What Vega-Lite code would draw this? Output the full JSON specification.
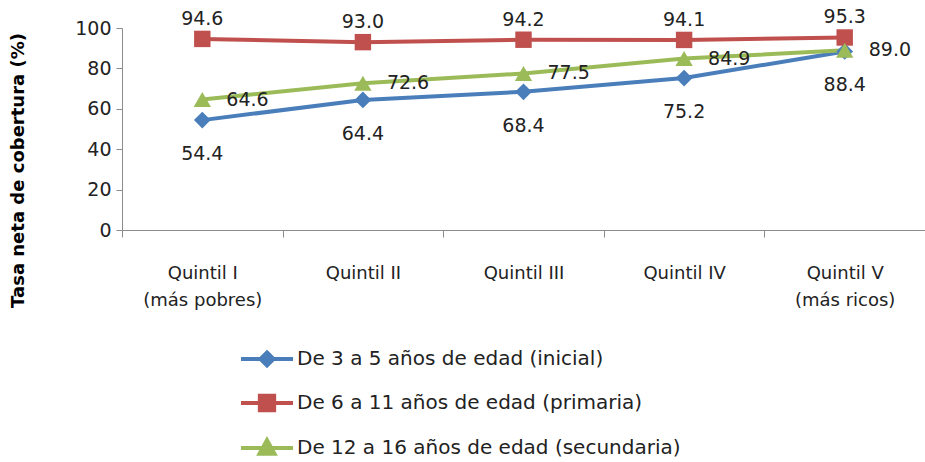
{
  "$schema": "https://vega.github.io/schema/vega-lite/v6.json",
  "autosize": "none",
  "width": 803,
  "height": 202,
  "padding": {"left": 122, "top": 28, "right": 0, "bottom": 232},
  "background": "white",
  "config": {
    "font": "DejaVu Sans",
    "view": {"stroke": null},
    "axis": {"domainColor": "#8c8c8c", "tickColor": "#8c8c8c", "labelColor": "#222", "labelFont": "DejaVu Sans", "titleFont": "DejaVu Sans"}
  },
  "data": {"values": [
    {"q": "Quintil I|(más pobres)", "s": "De 3 a 5 años de edad (inicial)", "v": 54.4},
    {"q": "Quintil II", "s": "De 3 a 5 años de edad (inicial)", "v": 64.4},
    {"q": "Quintil III", "s": "De 3 a 5 años de edad (inicial)", "v": 68.4},
    {"q": "Quintil IV", "s": "De 3 a 5 años de edad (inicial)", "v": 75.2},
    {"q": "Quintil V|(más ricos)", "s": "De 3 a 5 años de edad (inicial)", "v": 88.4},
    {"q": "Quintil I|(más pobres)", "s": "De 6 a 11 años de edad (primaria)", "v": 94.6},
    {"q": "Quintil II", "s": "De 6 a 11 años de edad (primaria)", "v": 93.0},
    {"q": "Quintil III", "s": "De 6 a 11 años de edad (primaria)", "v": 94.2},
    {"q": "Quintil IV", "s": "De 6 a 11 años de edad (primaria)", "v": 94.1},
    {"q": "Quintil V|(más ricos)", "s": "De 6 a 11 años de edad (primaria)", "v": 95.3},
    {"q": "Quintil I|(más pobres)", "s": "De 12 a 16 años de edad (secundaria)", "v": 64.6},
    {"q": "Quintil II", "s": "De 12 a 16 años de edad (secundaria)", "v": 72.6},
    {"q": "Quintil III", "s": "De 12 a 16 años de edad (secundaria)", "v": 77.5},
    {"q": "Quintil IV", "s": "De 12 a 16 años de edad (secundaria)", "v": 84.9},
    {"q": "Quintil V|(más ricos)", "s": "De 12 a 16 años de edad (secundaria)", "v": 89.0}
  ]},
  "encoding": {
    "x": {"field": "q", "type": "nominal", "sort": null,
      "scale": {"paddingInner": 0, "paddingOuter": 0},
      "axis": {"title": null, "labelAngle": 0, "labelExpr": "datum.value ? split(datum.value, '|') : ''", "labelFontSize": 18, "labelLineHeight": 27, "tickBand": "extent", "tickSize": 7, "labelPadding": 27, "domainWidth": 1}},
    "y": {"field": "v", "type": "quantitative",
      "scale": {"domain": [0, 100]},
      "axis": {"values": [0, 20, 40, 60, 80, 100], "grid": false, "tickSize": 6, "labelFontSize": 19, "labelPadding": 5,
        "title": "Tasa neta de cobertura (%)", "titleFontSize": 18, "titleFontWeight": "bold", "titleColor": "#000",
        "titleX": -104, "titleY": 142, "titleAngle": -90, "titleBaseline": "middle", "titleAlign": "center"}}
  },
  "layer": [
    {
      "mark": {"type": "line", "strokeWidth": 4},
      "encoding": {
        "color": {"field": "s", "type": "nominal", "sort": null,
          "scale": {"domain": ["De 3 a 5 años de edad (inicial)", "De 6 a 11 años de edad (primaria)", "De 12 a 16 años de edad (secundaria)"], "range": ["#4a7ebb", "#c0504d", "#9bbb59"]},
          "legend": {"title": null, "orient": "none", "legendX": 135, "legendY": 321, "direction": "vertical",
            "labelFontSize": 20, "labelColor": "#222", "labelFont": "DejaVu Sans", "labelLimit": 500,
            "symbolSize": 169, "symbolStrokeWidth": 4, "labelOffset": 20, "rowPadding": 13,
            "encode": {"symbols": {"update": {
              "shape": {"signal": "datum.value === 'De 3 a 5 años de edad (inicial)' ? 'M-4,0L4,0M0,-1L1,0L0,1L-1,0Z' : datum.value === 'De 6 a 11 años de edad (primaria)' ? 'M-4,0L4,0M-1.1,-1.1L1.1,-1.1L1.1,1.1L-1.1,1.1Z' : 'M-4,0L4,0M0,-1.2L1.15,0.9L-1.15,0.9Z'"},
              "fill": {"signal": "scale('color', datum.value)"},
              "stroke": {"signal": "scale('color', datum.value)"},
              "strokeWidth": {"value": 4},
              "strokeOpacity": {"value": 1},
              "fillOpacity": {"value": 1},
              "opacity": {"value": 1}
            }}}}
        },
        "detail": {"field": "s"}
      }
    },
    {
      "transform": [{"filter": "datum.s === 'De 3 a 5 años de edad (inicial)'"}],
      "mark": {"type": "point", "filled": true, "opacity": 1, "size": 280, "shape": "diamond", "color": "#4a7ebb"}
    },
    {
      "transform": [{"filter": "datum.s === 'De 6 a 11 años de edad (primaria)'"}],
      "mark": {"type": "point", "filled": true, "opacity": 1, "size": 270, "shape": "square", "color": "#c0504d"}
    },
    {
      "transform": [{"filter": "datum.s === 'De 12 a 16 años de edad (secundaria)'"}],
      "mark": {"type": "point", "filled": true, "opacity": 1, "size": 300, "shape": "triangle-up", "color": "#9bbb59"}
    },
    {
      "transform": [{"filter": "datum.s === 'De 3 a 5 años de edad (inicial)'"}],
      "mark": {"type": "text", "dy": 34, "fontSize": 19, "color": "#222"},
      "encoding": {"text": {"field": "v", "type": "quantitative", "format": ".1f"}}
    },
    {
      "transform": [{"filter": "datum.s === 'De 6 a 11 años de edad (primaria)'"}],
      "mark": {"type": "text", "dy": -20, "fontSize": 19, "color": "#222"},
      "encoding": {"text": {"field": "v", "type": "quantitative", "format": ".1f"}}
    },
    {
      "transform": [{"filter": "datum.s === 'De 12 a 16 años de edad (secundaria)'"}],
      "mark": {"type": "text", "dx": 24, "align": "left", "fontSize": 19, "color": "#222"},
      "encoding": {"text": {"field": "v", "type": "quantitative", "format": ".1f"}}
    }
  ]
}
